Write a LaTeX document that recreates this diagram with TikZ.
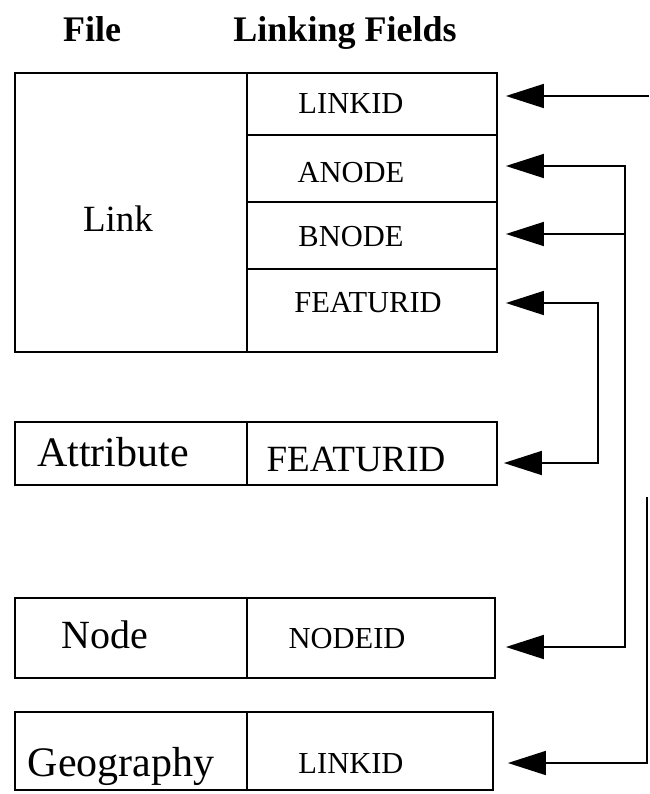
\documentclass[tikz,border=0pt]{standalone}
\usepackage{fontspec}
\setmainfont{Liberation Serif}
\usetikzlibrary{arrows.meta}
\begin{document}
\begin{tikzpicture}[x=1pt,y=-1pt,
  cell/.style={draw, line width=1.8pt, rectangle, inner sep=0pt, anchor=center},
  head/.style={anchor=base, font=\fontsize{36}{40}\selectfont\bfseries},
  lbl/.style={anchor=base, font=\fontsize{40}{44}\selectfont},
  fld/.style={anchor=base, font=\fontsize{30.5}{35}\selectfont},
  arr/.style={line width=1.7pt, -{Triangle[length=38pt,width=24pt]}},
  arrboth/.style={line width=1.7pt, {Triangle[length=38pt,width=24pt]}-{Triangle[length=38pt,width=24pt]}}]
\useasboundingbox (0,0) rectangle (649,794);
\fill[white] (0,0) rectangle (649,794);
% headers
\node[head] (hfile) at (92,42) {File};
\node[head] (hlink) at (345,42) {Linking Fields};
% Link file
\node[cell, minimum width=232pt, minimum height=279pt] (linkcell) at (131,212.5) {};
\node[cell, minimum width=250pt, minimum height=62pt] (linkid) at (372,104) {};
\node[cell, minimum width=250pt, minimum height=67pt] (anode) at (372,168.5) {};
\node[cell, minimum width=250pt, minimum height=67pt] (bnode) at (372,235.5) {};
\node[cell, minimum width=250pt, minimum height=83pt] (featurid) at (372,310.5) {};
\node[lbl, font=\fontsize{37}{42}\selectfont] (tlink) at (118,232) {Link};
\node[fld] (tlinkid) at (351,114) {LINKID};
\node[fld] (tanode) at (351,183) {ANODE};
\node[fld] (tbnode) at (351,246) {BNODE};
\node[fld] (tfeat) at (368,312) {FEATURID};
% Attribute file
\node[cell, minimum width=232pt, minimum height=63pt] (attrcell) at (131,453.5) {};
\node[cell, minimum width=250pt, minimum height=63pt] (attrfeat) at (372,453.5) {};
\node[lbl, font=\fontsize{42}{46}\selectfont] (tattr) at (113,466) {Attribute};
\node[fld, font=\fontsize{37}{42}\selectfont] (tattrfeat) at (356,471) {FEATURID};
% Node file
\node[cell, minimum width=232pt, minimum height=80pt] (nodecell) at (131,638) {};
\node[cell, minimum width=248pt, minimum height=80pt] (nodeid) at (371,638) {};
\node[lbl] (tnode) at (105,648) {Node};
\node[fld] (tnodeid) at (347,648) {NODEID};
% Geography file
\node[cell, minimum width=232pt, minimum height=78pt] (geocell) at (131,751) {};
\node[cell, minimum width=246pt, minimum height=78pt] (geolink) at (370,751) {};
\node[lbl, font=\fontsize{42}{46}\selectfont] (tgeo) at (121,776) {Geography};
\node[fld] (tgeolink) at (351,773) {LINKID};
% connectors
\coordinate (e1) at (649,96);
\draw[arr] (e1) -- ([xshift=8pt,yshift=8pt]linkid.east);
\draw[arrboth] ([xshift=8pt,yshift=2.5pt]anode.east) -- ++(119,0) |- ([xshift=10pt,yshift=-9pt]nodeid.east);
\coordinate (jb) at (624,234);
\draw[arr] (jb) -- ([xshift=8pt,yshift=1.5pt]bnode.east);
\draw[arrboth] ([xshift=8pt,yshift=7.5pt]featurid.east) -- ++(92,0) |- ([xshift=6pt,yshift=-9.5pt]attrfeat.east);
\coordinate (g0) at (647,497);
\draw[arr] (g0) |- ([xshift=14pt,yshift=-12pt]geolink.east);
\end{tikzpicture}
\end{document}
